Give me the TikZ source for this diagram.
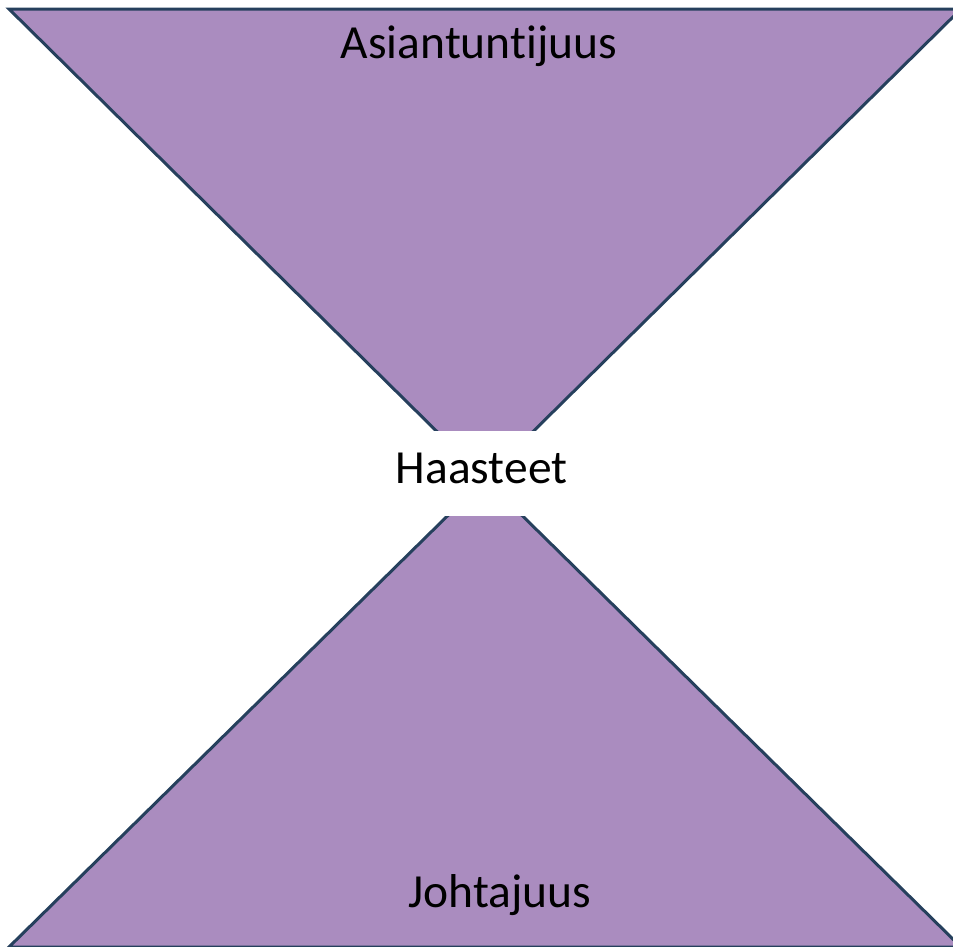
\documentclass[tikz,border=0pt]{standalone}
\usepackage{fontspec}
\setmainfont[Ligatures=NoCommon]{Carlito}
\definecolor{tri}{HTML}{AA8CBF}
\definecolor{edge}{HTML}{26405D}
\begin{document}
\begin{tikzpicture}[x=1pt,y=-1pt,
  halfshape/.style={fill=tri,draw=edge,line width=3pt,line join=miter},
  lbl/.style={font=\fontsize{47.5}{52}\selectfont,anchor=base,inner sep=0pt,text=black}]
\useasboundingbox (0,0) rectangle (953,946);
\clip (0,0) rectangle (953,946);
\coordinate (tl) at (9,9);
\coordinate (tr) at (961,9);
\coordinate (apex) at (485,479);
\coordinate (bl) at (9,947);
\coordinate (br) at (961,947);
\draw[halfshape] (tl) -- (tr) -- (apex) -- cycle;
\draw[halfshape] (bl) -- (br) -- (apex) -- cycle;
\fill[white] (300,431) rectangle (670,516);
\node[lbl] (top) at (479,58) {Asiantuntijuus};
\node[lbl] (mid) at (481.5,483) {Haasteet};
\node[lbl] (bot) at (500,907) {Johtajuus};
\end{tikzpicture}
\end{document}
